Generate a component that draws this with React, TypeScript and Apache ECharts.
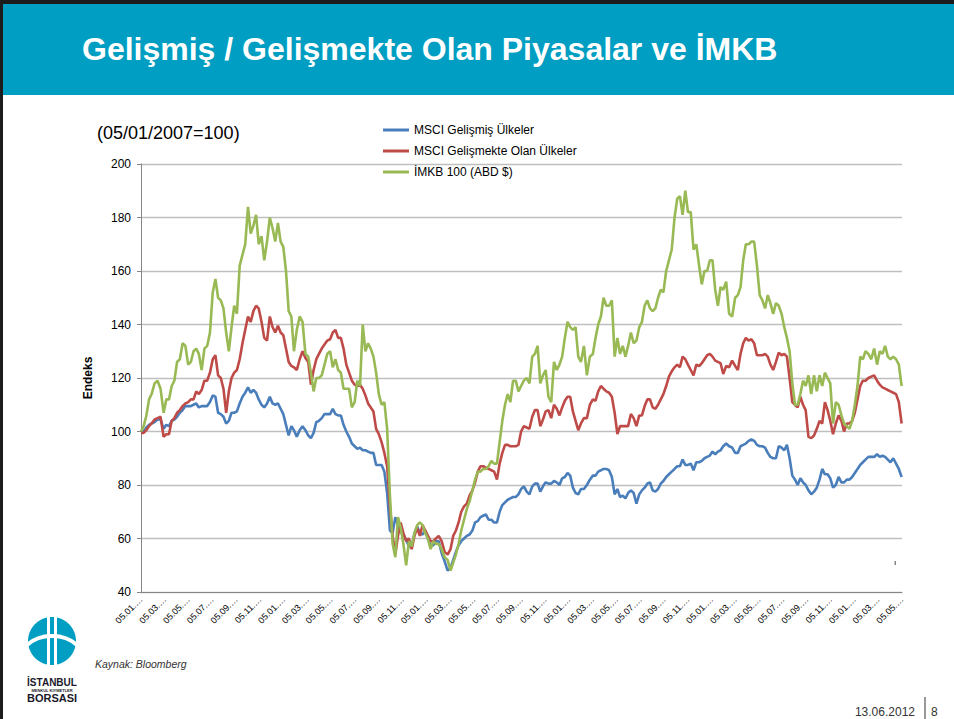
import React, { useEffect, useRef } from "react";
import * as echarts from "echarts";

const SERIES_NAMES = ["MSCI Gelişmiş Ülkeler", "MSCI Gelişmekte Olan Ülkeler", "İMKB 100 (ABD $)"];
const SERIES_COLORS = ["#4A7EBB", "#BE4B48", "#98B954"];

// Weekly observations starting 05.01.2007
const START_YEAR = 2007;
const START_MONTH = 0;
const START_DAY = 5;

const msciDeveloped = [
  100, 100, 101.5, 102.5, 103, 103.5, 104.5, 104.5, 101, 102.5,
  102, 104, 104.5, 105.5, 107, 108, 109.5, 109.5, 109.5, 110,
  110.5, 109, 109.5, 109.5, 109.5, 111, 113.5, 113, 107, 106.5,
  105.5, 103, 104, 107, 107, 107.5, 110.5, 113, 114.5, 116.5,
  114.5, 115.5, 114.5, 112, 110, 109, 110.5, 113, 110.5, 110,
  110.5, 108.5, 106.5, 102.5, 98.5, 102, 100.5, 98, 100.5, 102,
  100.5, 98.5, 97.5, 99.5, 103.5, 104, 105, 106.5, 106.5, 106.5,
  108.5, 106.5, 106, 106, 102.5, 100, 98, 95.5, 94.5, 93.5,
  94, 93, 93, 92.5, 92, 92, 87.5, 87.5, 87.5, 85,
  77, 63, 62, 68, 65, 62.5, 61.5, 59.5, 57, 57,
  62, 64.5, 62, 61.5, 63, 60, 57, 57.5, 59, 59,
  54.5, 51.5, 48, 49, 52, 55, 57.5, 59, 60, 61,
  61.5, 63, 66, 66.5, 68, 68.5, 69, 67, 67, 66,
  66, 70, 72.5, 73.5, 74.5, 75, 75.5, 75.5, 76.5, 78.5,
  79.5, 77.5, 76.5, 79.5, 80.5, 80.5, 77.5, 79.5, 81, 80.5,
  80.5, 81.5, 81, 80, 82.5, 83, 84.5, 83.5, 79, 77,
  76.5, 78.5, 78.5, 80, 82, 83.5, 83.5, 85, 85.5, 86,
  86, 85.5, 83, 76.5, 78.5, 75.5, 76, 75, 77, 78,
  77, 73, 76.5, 78, 79, 80.5, 81, 78, 77.5, 78.5,
  80.5, 81.5, 83, 84, 85, 86, 87, 87, 89.5, 87.5,
  87.5, 88, 85.5, 88.5, 88.5, 89, 90, 90.5, 91, 92.5,
  91.5, 92.5, 93, 94.5, 95.5, 94.5, 94, 92, 92, 94.5,
  95, 95.5, 96.5, 97, 96.5, 95, 94.5, 94.5, 94, 92,
  90.5, 90, 90, 94.5, 94, 93, 95, 90, 83.5, 82,
  80, 82.5, 81, 80, 78, 76.5, 77.5, 79, 82, 86,
  84, 84, 82.5, 79, 80, 83, 81, 81, 82, 82,
  83, 84.5, 86, 87.5, 88.5, 89.5, 90.5, 90.5, 90.5, 91.5,
  90.5, 91, 90.5, 89.5, 88.5, 90, 88, 86, 83,
];

const msciEmerging = [
  99.5, 99.5, 100.5, 102, 103, 104.5, 105, 105.5, 98, 99,
  99, 104, 105, 107, 108, 109.5, 110.5, 111, 112, 112,
  115, 114, 115.5, 119, 119, 122, 127, 128.5, 121, 120,
  116, 107, 115, 120, 122, 123, 127, 133, 138, 143,
  141, 145, 147, 146, 141, 135, 134, 143, 139, 137,
  139.5, 137, 136, 131, 126, 124.5, 124, 123, 127, 130,
  127.5, 126, 117.5, 123, 127, 129, 131, 132.5, 134, 134.5,
  137, 138, 135, 135, 131, 125, 122, 119, 117.5, 117,
  117.5, 116, 113.5, 110.5, 109, 107.5, 101, 99, 96, 92,
  87, 72, 61, 54, 61, 66, 62, 59, 60, 56,
  61, 64, 61, 65, 63, 61, 59, 59, 60, 61,
  59, 55, 54, 56, 61, 63, 66, 70, 72, 73,
  76, 78, 81, 85, 87, 87, 86.5, 86, 85.5, 85,
  82, 88, 92, 95, 95, 94.5, 94.5, 94.5, 95, 100,
  102, 101.5, 101, 105.5, 108, 108, 102, 104.5, 107.5, 108,
  105, 110, 108.5, 106, 109, 111.5, 113, 113, 107.5, 104,
  100.5, 103, 105, 105, 110, 112, 111.5, 115, 117, 116,
  115, 114.5, 113, 107, 99, 102, 102, 102, 102, 106.5,
  105, 102, 106, 106, 109.5, 112, 112, 109, 108.5, 110,
  112, 114, 117, 120.5, 122.5, 124, 125, 124, 128, 127,
  125, 123, 121, 125, 124.5, 125.5, 127, 128.5, 129, 128,
  126.5, 126, 125.5, 121.5, 124.5, 124, 126.5, 124.5, 123, 129,
  133, 135, 134, 134.5, 133, 128.5, 128.5, 128.5, 129, 128,
  125, 123, 126, 129.5, 128.5, 129, 128, 120, 111, 110,
  109, 113, 110, 108, 98, 97.5, 98.5, 101, 104, 103,
  111, 108, 104, 99, 103, 106, 104, 100, 103, 103,
  104, 107, 112, 117, 119, 119, 120, 120.5, 121, 119,
  117.5, 116.5, 116, 115.5, 115, 114.5, 114, 111, 103,
];

const imkb100Usd = [
  100, 102, 106, 112, 114, 118, 119, 116, 107, 112,
  112, 117, 119, 126, 127, 133, 132, 125, 126, 130,
  131, 129, 123, 131, 132, 137, 152, 157, 150, 149,
  146, 137, 130, 139, 147, 144, 162, 166, 170, 184,
  174, 177, 181, 170, 173, 164, 171, 180, 176, 171,
  178, 171, 169, 160, 145, 143, 130, 138, 143, 141,
  129, 128, 122, 115, 120, 120, 121, 125, 129, 130,
  124, 127, 123, 122, 116, 116, 116, 109, 111, 119,
  117, 140, 130, 133, 131, 128, 122, 114, 110, 111,
  101, 76, 58, 53, 68, 64, 58, 50, 59, 57,
  62, 65, 66, 65, 62, 60, 56, 59, 58, 58,
  56, 53, 52, 48, 51, 54, 58, 63, 67, 71,
  74, 78, 82, 85, 85, 86, 86, 87, 89, 88,
  88, 96, 104, 110, 114, 111, 119, 119, 115, 117,
  119, 120, 118, 128, 129, 132, 118, 121, 123, 113,
  111, 126, 123, 125, 128, 135, 141, 139, 138, 139,
  128, 126, 132, 121, 128, 129, 135, 140, 143, 150,
  147, 147, 149, 128, 135, 129, 132, 128, 132, 137,
  133, 134, 139, 141, 147, 149, 146, 145, 146, 150,
  153, 152, 160, 164, 168, 180, 187, 188, 181, 190,
  182, 182, 168, 170, 162, 155, 160, 160, 164, 164,
  153, 147, 154, 153, 156, 144, 143, 150, 151, 154,
  164, 170, 170, 171, 171, 162, 151, 149, 146, 151,
  148, 144, 148, 147, 144, 139, 135, 130, 118, 110,
  110, 114, 119, 117, 121, 114, 121, 115, 121, 117,
  122, 120, 118, 103, 111, 110, 106, 103, 102, 101,
  104, 110, 117, 128, 127, 130, 129, 127, 131, 125,
  130, 129, 132, 128, 127, 128, 127, 125, 117,
];

const Y_MIN = 40;
const Y_MAX = 200;
const Y_STEP = 20;
const X_MONTHS_MAX = 64; // 05.01.2007 .. 05.05.2012
const X_LABEL_STEP = 2;

const TITLE = "Gelişmiş / Gelişmekte Olan Piyasalar ve İMKB";
const SUBTITLE = "(05/01/2007=100)";
const Y_NAME = "Endeks";
const SOURCE = "Kaynak: Bloomberg";
const DATE_TEXT = "13.06.2012";
const PAGE_NO = "8";

const FONT = "'Liberation Sans', Arial, sans-serif";

function weeklyDates(n: number): Date[] {
  const out: Date[] = [];
  for (let k = 0; k < n; k++) out.push(new Date(START_YEAR, START_MONTH, START_DAY + 7 * k));
  return out;
}

function monthsSinceStart(d: Date): number {
  const days = new Date(d.getFullYear(), d.getMonth() + 1, 0).getDate();
  return (d.getFullYear() - START_YEAR) * 12 + (d.getMonth() - START_MONTH) + (d.getDate() - START_DAY) / days;
}

export default function App() {
  const ref = useRef<HTMLDivElement>(null);

  useEffect(() => {
    if (!ref.current) return;
    const chart = echarts.init(ref.current, undefined, { renderer: "svg" });
    const dates = weeklyDates(msciDeveloped.length);
    const xs = dates.map(monthsSinceStart);
    const all = [msciDeveloped, msciEmerging, imkb100Usd];

    const series = all.map((vals, i) => ({
      name: SERIES_NAMES[i],
      type: "line",
      data: vals.map((v, k) => [xs[k], v]),
      symbol: "none",
      lineStyle: { width: 2.6, color: SERIES_COLORS[i] },
      itemStyle: { color: SERIES_COLORS[i] },
      emphasis: { disabled: true },
    }));

    chart.setOption({
      animation: false,
      backgroundColor: "#ffffff",
      textStyle: { fontFamily: FONT },
      grid: { left: 141, right: 52, top: 164, bottom: 127, containLabel: false },
      legend: {
        orient: "vertical",
        left: 378,
        top: 118,
        icon: "rect",
        itemWidth: 26,
        itemHeight: 3,
        itemGap: 7,
        textStyle: { fontSize: 12, color: "#000", fontFamily: FONT, lineHeight: 14 },
        data: SERIES_NAMES,
      },
      xAxis: {
        type: "value",
        min: 0,
        max: X_MONTHS_MAX,
        interval: X_LABEL_STEP,
        axisLine: { lineStyle: { color: "#868686", width: 1 } },
        axisTick: { show: false },
        splitLine: { show: false },
        axisLabel: {
          rotate: 45,
          fontSize: 9,
          color: "#000",
          margin: 6,
          fontFamily: FONT,
          formatter: (v: number) => {
            const m = (Math.round(v) % 12) + 1;
            return "05." + String(m).padStart(2, "0") + ".…";
          },
        },
      },
      yAxis: {
        type: "value",
        min: Y_MIN,
        max: Y_MAX,
        interval: Y_STEP,
        name: Y_NAME,
        nameLocation: "middle",
        nameGap: 47,
        nameRotate: 90,
        nameTextStyle: { fontSize: 12, fontWeight: "bold", color: "#000", fontFamily: FONT },
        axisLine: { show: true, lineStyle: { color: "#868686", width: 1 } },
        axisTick: { show: true, length: 4, lineStyle: { color: "#868686" } },
        splitLine: { lineStyle: { color: "#BFBFBF", width: 1.4 } },
        axisLabel: { fontSize: 12, color: "#000", margin: 10, fontFamily: FONT },
      },
      series,
      graphic: [
        { type: "rect", shape: { x: 0, y: 0, width: 954, height: 4 }, style: { fill: "#1c1c1c" }, silent: true },
        { type: "rect", shape: { x: 0, y: 0, width: 3, height: 719 }, style: { fill: "#1c1c1c" }, silent: true },
        { type: "rect", shape: { x: 3, y: 4, width: 951, height: 91 }, style: { fill: "#009EC2" }, silent: true },
        {
          type: "text", x: 82, y: 49, silent: true,
          style: { text: TITLE, fill: "#ffffff", font: `bold 32px ${FONT}`, verticalAlign: "middle" },
        },
        {
          type: "text", x: 97, y: 133, silent: true,
          style: { text: SUBTITLE, fill: "#000", font: `18px ${FONT}`, verticalAlign: "middle" },
        },
        {
          type: "text", x: 95, y: 664, silent: true,
          style: { text: SOURCE, fill: "#333", font: `italic 10.5px ${FONT}`, verticalAlign: "middle" },
        },
        {
          type: "text", x: 915, y: 712, silent: true,
          style: { text: DATE_TEXT, fill: "#333", font: `12px ${FONT}`, align: "right", verticalAlign: "middle" },
        },
        { type: "line", shape: { x1: 925, y1: 697, x2: 925, y2: 719 }, style: { stroke: "#333", lineWidth: 1 }, silent: true },
        {
          type: "text", x: 931, y: 712, silent: true,
          style: { text: PAGE_NO, fill: "#333", font: `12px ${FONT}`, verticalAlign: "middle" },
        },
        { type: "rect", shape: { x: 894.5, y: 561, width: 1.5, height: 4 }, style: { fill: "#888" }, silent: true },
        // logo
        { type: "circle", shape: { cx: 52, cy: 641, r: 24 }, style: { fill: "#009EC2" }, silent: true },
        { type: "rect", shape: { x: 47, y: 616, width: 10, height: 50 }, style: { fill: "#fff" }, silent: true },
        { type: "rect", shape: { x: 50, y: 617, width: 4, height: 48 }, style: { fill: "#009EC2" }, silent: true },
        {
          type: "bezierCurve", silent: true,
          shape: { x1: 27, y1: 645, x2: 77, y2: 645, cpx1: 40, cpy1: 633, cpx2: 64, cpy2: 633 },
          style: { stroke: "#fff", lineWidth: 4, fill: "none" },
        },
        {
          type: "text", x: 52, y: 682, silent: true,
          style: { text: "İSTANBUL", fill: "#1a1a2a", font: `bold 10px ${FONT}`, align: "center", verticalAlign: "middle" },
        },
        {
          type: "text", x: 52, y: 690, silent: true,
          style: { text: "MENKUL KIYMETLER", fill: "#1a1a2a", font: `bold 4px ${FONT}`, align: "center", verticalAlign: "middle" },
        },
        {
          type: "text", x: 52, y: 698, silent: true,
          style: { text: "BORSASI", fill: "#1a1a2a", font: `bold 11px ${FONT}`, align: "center", verticalAlign: "middle" },
        },
      ],
    });
    return () => chart.dispose();
  }, []);

  return (
    <div
      ref={ref}
      style={{ position: "fixed", left: 0, top: 0, width: 954, height: 719, background: "#fff" }}
    />
  );
}
